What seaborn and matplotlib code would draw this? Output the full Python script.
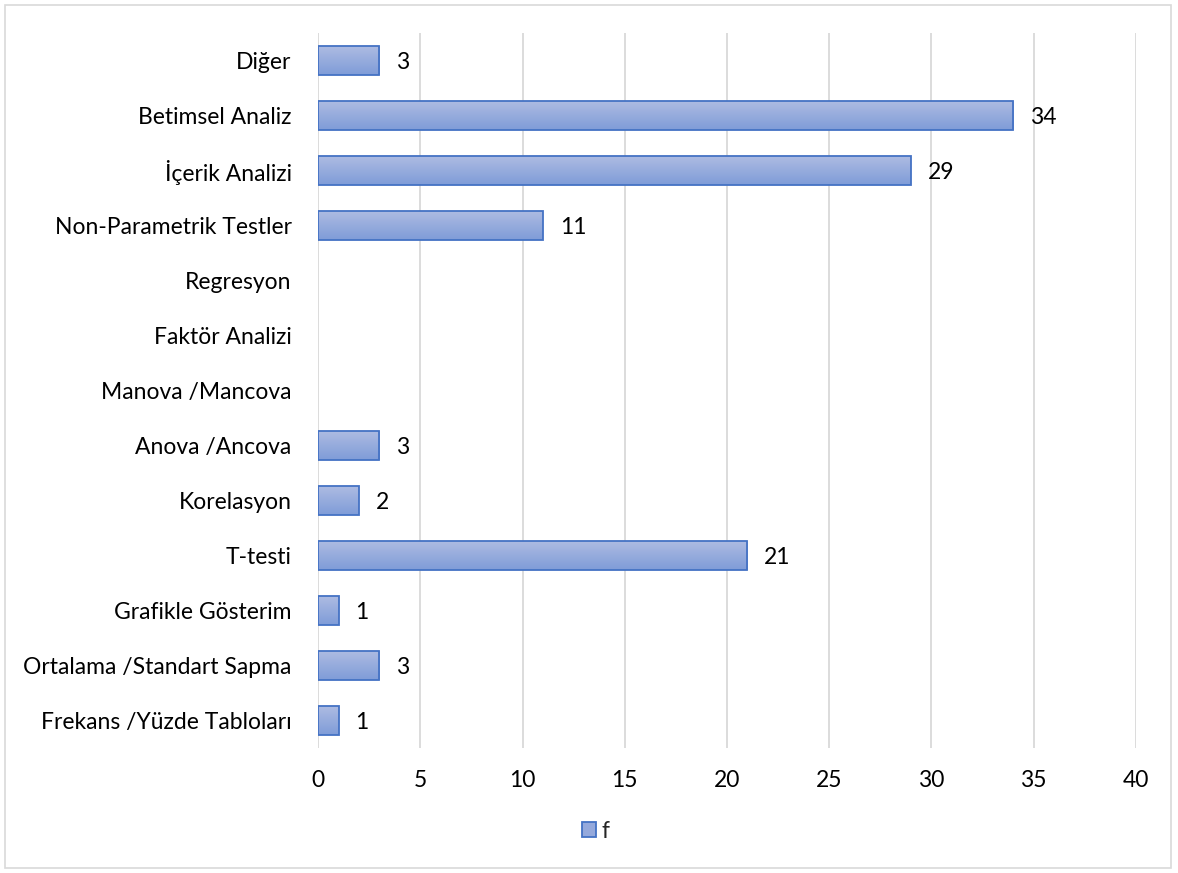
import numpy as np
import pandas as pd
import matplotlib
matplotlib.use("Agg")
import matplotlib.pyplot as plt
from matplotlib.colors import LinearSegmentedColormap
from matplotlib.patches import Rectangle
import seaborn as sns

categories = [
    "Diğer",
    "Betimsel Analiz",
    "İçerik Analizi",
    "Non-Parametrik Testler",
    "Regresyon",
    "Faktör Analizi",
    "Manova /Mancova",
    "Anova /Ancova",
    "Korelasyon",
    "T-testi",
    "Grafikle Gösterim",
    "Ortalama /Standart Sapma",
    "Frekans /Yüzde Tabloları",
]
values = [3, 34, 29, 11, 0, 0, 0, 3, 2, 21, 1, 3, 1]
value_labels = ["3", "34", "29", "11", "", "", "", "3", "2", "21", "1", "3", "1"]
x_ticks = [0, 5, 10, 15, 20, 25, 30, 35, 40]
series_name = "f"

df = pd.DataFrame({"kategori": categories, "f": values})

sns.set_theme(style="white")
plt.rcParams["font.family"] = ["Lato", "DejaVu Sans"]

FS = 16.5

fig = plt.figure(figsize=(11.78, 8.73), dpi=100)
ax = fig.add_axes([0.270, 0.1432, 0.6943, 0.8190])

edge = "#4472c4"
top_col = "#adbbe2"
bot_col = "#7f9cd8"
grad = LinearSegmentedColormap.from_list("bar_grad", [top_col, bot_col])

sns.barplot(data=df, x="f", y="kategori", orient="h", color=top_col,
            width=0.51, ax=ax, zorder=2, saturation=1)

# vertical gradient fill clipped to each bar, then crisp outline
gradient = np.linspace(0, 1, 64).reshape(-1, 1)
for p, v in zip(ax.patches, values):
    if v <= 0:
        p.set_visible(False)
        continue
    x0, y0 = p.get_x(), p.get_y()
    w, h = p.get_width(), p.get_height()
    im = ax.imshow(gradient, cmap=grad, aspect="auto",
                   extent=[x0, x0 + w, y0 + h, y0], origin="upper", zorder=2.5)
    im.set_clip_path(p)
    p.set_facecolor("none")
    p.set_edgecolor(edge)
    p.set_linewidth(1.3)
    p.set_zorder(3)

texts = ax.bar_label(ax.containers[0], labels=value_labels, padding=12,
                     fontsize=FS, color="#000000")
for t in texts:
    t.set_va("center_baseline")

ax.set_xlim(0, 40)
ax.set_ylim(len(categories) - 0.5, -0.5)
ax.set_xticks(x_ticks)
ax.set_xticklabels([str(t) for t in x_ticks], fontsize=FS, color="#000000")
ax.set_yticklabels(categories, fontsize=FS, color="#000000")
for t in ax.get_yticklabels():
    t.set_va("center_baseline")
ax.set_xlabel("")
ax.set_ylabel("")
ax.tick_params(axis="x", length=0, pad=16)
ax.tick_params(axis="y", length=0, pad=19)
ax.xaxis.grid(True, color="#d9d9d9", linewidth=1.3, zorder=0)
ax.yaxis.grid(False)
ax.set_axisbelow(True)
for s in ax.spines.values():
    s.set_visible(False)

# legend
handle = Rectangle((0, 0), 1, 1, facecolor="#95a9dc", edgecolor=edge, linewidth=1.3)
fig.legend([handle], [series_name], loc="center", bbox_to_anchor=(0.506, 0.048),
           frameon=False, fontsize=FS, handlelength=0.6, handleheight=0.6,
           handletextpad=0.25)

# chart area border
fig.add_artist(Rectangle((5 / 1178, 5 / 873), 1166 / 1178, 863 / 873,
                         transform=fig.transFigure, fill=False,
                         edgecolor="#d9d9d9", linewidth=1.2))

fig.savefig("out.png", dpi=100, facecolor="white")
